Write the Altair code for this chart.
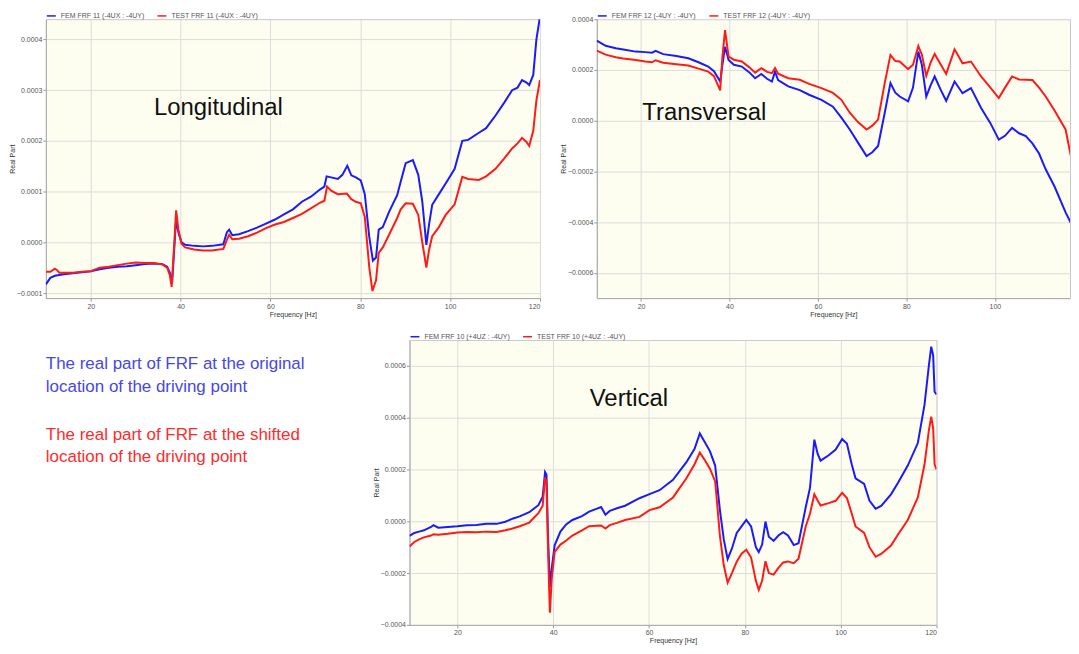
import altair as alt
import pandas as pd

# ---------------- data (real part values in units of 1e-4) ----------------
# Longitudinal
fL_fem = [10, 11, 12, 14, 16, 18, 20, 22, 24, 26, 28, 30, 32, 34, 36, 37, 37.6, 38.1, 38.6, 39.0,
          39.5, 40.2, 41, 43, 45, 47, 49.5, 50.3, 50.8, 51.5, 53, 55, 57, 59, 61, 63, 65, 67, 69, 71,
          72, 72.5, 73.5, 75, 76, 77.1, 78, 79, 80.1, 81, 82, 82.8, 83.5, 84.1, 85, 86.4, 88.2, 89, 90.1, 91.7,
          92.9, 93.8, 94.7, 95.3, 96, 97.5, 99, 101, 102.7, 104, 106.4, 108, 110.1, 112, 113.8, 115, 116, 117, 117.6, 118.5,
          119.2, 120]
vL_fem = [-0.83, -0.70, -0.66, -0.63, -0.61, -0.59, -0.57, -0.53, -0.50, -0.48, -0.47, -0.45, -0.43, -0.42, -0.43, -0.48, -0.6, -0.8, -0.1, 0.46,
          0.2, 0.0, -0.05, -0.07, -0.08, -0.07, -0.04, 0.2, 0.25, 0.14, 0.16, 0.22, 0.29, 0.37, 0.45, 0.55, 0.65, 0.8, 0.9, 1.04,
          1.1, 1.3, 1.28, 1.25, 1.33, 1.51, 1.32, 1.28, 1.22, 0.95, 0.1, -0.36, -0.3, 0.25, 0.3, 0.6, 0.93, 1.2, 1.56, 1.62,
          1.33, 0.8, -0.05, 0.35, 0.74, 0.95, 1.16, 1.45, 2.0, 2.02, 2.16, 2.25, 2.5, 2.75, 3.0, 3.05, 3.2, 3.15, 3.1, 3.3,
          4.0, 4.45]
fL_test = [10, 11, 12, 12.5, 13, 14, 16, 18, 20, 22, 24, 26, 28, 30, 32, 34, 36, 37, 37.6, 38.0,
           38.6, 39.0, 39.5, 40.2, 41, 43, 45, 47, 49.5, 50.3, 50.8, 51.5, 53, 55, 57, 59, 61, 63, 65, 67,
           69, 71, 72, 72.6, 73.5, 75, 77, 78, 79, 80.1, 81, 82, 82.7, 83.5, 84.1, 85, 86.4, 88.2, 89, 90.1,
           91.7, 92.9, 93.8, 94.7, 95.3, 96, 97.5, 99, 101, 102.7, 104, 106.4, 108, 110.1, 112, 113.8, 115, 116, 117, 117.6,
           118.5, 119.2, 120]
vL_test = [-0.58, -0.58, -0.52, -0.55, -0.6, -0.6, -0.6, -0.58, -0.57, -0.5, -0.48, -0.45, -0.42, -0.4, -0.41, -0.41, -0.44, -0.5, -0.65, -0.88,
           0.0, 0.63, 0.25, -0.03, -0.1, -0.14, -0.16, -0.16, -0.13, 0.05, 0.15, 0.06, 0.07, 0.12, 0.19, 0.28, 0.35, 0.4, 0.48, 0.56,
           0.67, 0.78, 0.82, 1.1, 1.02, 0.95, 0.96, 0.85, 0.8, 0.77, 0.5, -0.5, -0.96, -0.75, -0.21, -0.1, 0.15, 0.48, 0.65, 0.77,
           0.76, 0.54, 0.0, -0.5, -0.15, 0.12, 0.3, 0.54, 0.75, 1.29, 1.25, 1.23, 1.3, 1.45, 1.65, 1.85, 1.95, 2.06, 1.98, 1.9,
           2.2, 2.8, 3.2]

# Transversal
fT = [10, 12, 14.3, 16, 18.8, 21, 22.5, 23.3, 25, 28, 30.7, 33, 35.2, 36.5, 37.9, 38.4, 39.0, 39.8, 41, 42.8,
      44.5, 45.8, 47.2, 48.5, 49.6, 50.3, 51, 53.3, 55.9, 58, 60.8, 63.4, 65.3, 67.2, 69, 71.0, 72.3, 73.6, 75.1, 76.4,
      77.5, 78.5, 80.4, 81.5, 82.7, 83.5, 84.5, 85.5, 86.4, 87.8, 89.0, 90.9, 92.7, 94.6, 96.9, 99, 100.9, 102.3, 103.9, 105.5,
      107.0, 108.5, 110, 111.5, 113.5, 116.0, 117.5, 118.5]
vT_fem = [3.15, 2.95, 2.85, 2.8, 2.72, 2.7, 2.68, 2.75, 2.62, 2.55, 2.46, 2.3, 2.13, 1.95, 1.54, 2.2, 2.91, 2.39, 2.2, 2.13,
          1.9, 1.67, 1.84, 1.65, 1.54, 1.93, 1.6, 1.35, 1.2, 1.02, 0.82, 0.55, 0.12, -0.35, -0.85, -1.4, -1.25, -1.0, 0.3, 1.48,
          1.1, 0.95, 0.76, 1.3, 2.72, 2.2, 0.95, 1.4, 1.74, 1.2, 0.78, 1.54, 1.08, 1.28, 0.5, -0.1, -0.75, -0.6, -0.29, -0.5,
          -0.61, -0.9, -1.3, -1.92, -2.6, -3.62, -4.14, -5.5]
vT_test = [2.76, 2.6, 2.5, 2.45, 2.39, 2.33, 2.3, 2.38, 2.28, 2.22, 2.17, 2.05, 1.93, 1.75, 1.19, 2.5, 3.57, 2.52, 2.4, 2.33,
           2.1, 1.89, 2.07, 1.92, 1.87, 2.07, 1.85, 1.67, 1.61, 1.45, 1.28, 1.09, 0.82, 0.31, -0.05, -0.35, -0.2, 0.04, 1.48, 2.59,
           2.35, 2.33, 2.03, 2.2, 2.94, 2.6, 1.76, 2.3, 2.63, 2.2, 1.84, 2.81, 2.26, 2.33, 1.74, 1.3, 0.89, 1.3, 1.74, 1.62,
           1.61, 1.6, 1.3, 0.95, 0.4, -0.35, -1.66, -3.2]

# Vertical
fV = [10, 11, 12, 13, 14.5, 15, 16, 18, 20, 22, 24, 26, 28.2, 30, 31.5, 33, 35, 36.9, 37.8, 38.3,
      38.6, 38.9, 39.3, 39.7, 40.3, 41.5, 42.7, 44, 46, 47.5, 49, 50, 50.9, 51.8, 53.3, 55, 58, 60.1, 62.2, 65,
      67.8, 69.5, 70.6, 71.5, 72.7, 73.8, 74.8, 75.6, 76.4, 77.3, 78.3, 79.3, 80.3, 81.3, 82.3, 82.9, 83.6, 84.3, 85, 86.0,
      87, 88.0, 89, 90.2, 91.2, 92.7, 93.6, 94.5, 95.2, 95.8, 97.5, 98.95, 100.3, 101.3, 102.3, 103.1, 104.9, 106, 107.3, 108.5,
      110.5, 112, 114.0, 116.1, 117.5, 118.4, 118.9, 119.3, 119.6, 120]
vV_fem = [-0.56, -0.45, -0.4, -0.35, -0.22, -0.15, -0.25, -0.22, -0.19, -0.15, -0.14, -0.1, -0.1, -0.02, 0.1, 0.19, 0.35, 0.62, 0.95, 1.9,
          1.8, -0.5, -2.54, -1.8, -0.93, -0.4, -0.12, 0.05, 0.2, 0.37, 0.48, 0.55, 0.25, 0.4, 0.5, 0.6, 0.89, 1.05, 1.2, 1.6,
          2.28, 2.8, 3.39, 3.1, 2.71, 2.15, 0.42, -0.7, -1.46, -1.05, -0.45, -0.2, 0.05, -0.2, -1.0, -1.19, -0.9, -0.01, -0.6, -0.76,
          -0.55, -0.42, -0.55, -0.92, -0.85, 0.54, 1.3, 3.15, 2.6, 2.34, 2.55, 2.77, 3.17, 3.0, 2.2, 1.66, 1.44, 0.8, 0.48, 0.6,
          1.04, 1.5, 2.15, 3.02, 4.5, 6.0, 6.74, 6.4, 5.0, 4.9]
vV_test = [-0.97, -0.8, -0.7, -0.62, -0.55, -0.5, -0.52, -0.48, -0.43, -0.41, -0.42, -0.4, -0.41, -0.35, -0.28, -0.19, -0.05, 0.31, 0.6, 1.7,
           1.5, -1.0, -3.53, -2.2, -1.18, -0.9, -0.74, -0.55, -0.35, -0.19, -0.17, -0.16, -0.28, -0.15, -0.06, 0.05, 0.17, 0.43, 0.54, 0.92,
           1.66, 2.2, 2.65, 2.4, 2.03, 1.54, -0.57, -1.7, -2.37, -2.0, -1.56, -1.25, -1.1, -1.4, -2.3, -2.65, -2.3, -1.54, -2.0, -2.06,
           -1.8, -1.59, -1.55, -1.62, -1.45, -0.2, 0.3, 1.04, 0.8, 0.61, 0.7, 0.79, 1.1, 0.9, 0.3, -0.2, -0.45, -1.0, -1.37, -1.25,
           -0.94, -0.5, 0.05, 0.92, 2.2, 3.5, 4.04, 3.6, 2.2, 2.0]

names_L = ["FEM FRF 11 (-4UX : -4UY)", "TEST FRF 11 (-4UX : -4UY)"]
names_T = ["FEM FRF 12 (-4UY : -4UY)", "TEST FRF 12 (-4UY : -4UY)"]
names_V = ["FEM FRF 10 (+4UZ : -4UY)", "TEST FRF 10 (+4UZ : -4UY)"]

# panel headings (frequency, value in 1e-4)
head_text = ["Longitudinal", "Transversal", "Vertical"]
head_f = [48.4, 34.3, 55.8]
head_v = [2.65, 0.31, 4.71]

# y-axis ticks (values in 1e-4)
yticks_L = [-1, 0, 1, 2, 3, 4]
yticks_T = [-6, -4, -2, 0, 2, 4]
yticks_V = [-4, -2, 0, 2, 4, 6]
xticks = [20, 40, 60, 80, 100, 120]

side_text = ["The real part of FRF at the original", "location of the driving point",
             "The real part of FRF at the shifted", "location of the driving point"]
side_row = [0, 1, 3.1, 4.05]
side_color = ["#4747e6", "#4747e6", "#ff2b2b", "#ff2b2b"]

BLUE = "#1a1aff"
RED = "#ff1a1a"
E = 1e-4


def frame(f1, v1, f2, v2, names):
    a = pd.DataFrame({"f": f1, "v": [x * E for x in v1], "s": names[0]})
    b = pd.DataFrame({"f": f2, "v": [x * E for x in v2], "s": names[1]})
    return pd.concat([a, b], ignore_index=True)


def panel(df, names, xdom, ydom, yticks, idx, w, h):
    xenc = alt.X("f:Q", scale=alt.Scale(domain=xdom, nice=False, zero=False),
                 axis=alt.Axis(values=xticks, title="Frequency [Hz]", format="d"))
    yenc = alt.Y("v:Q", scale=alt.Scale(domain=[d * E for d in ydom], nice=False, zero=False),
                 axis=alt.Axis(values=[t * E for t in yticks], format=".4f", title="Real Part"))
    lines = alt.Chart(df).mark_line(strokeWidth=2, clip=True).encode(
        x=xenc, y=yenc,
        color=alt.Color("s:N", title=None,
                        scale=alt.Scale(domain=names, range=[BLUE, RED]),
                        legend=alt.Legend(orient="top", offset=0, symbolType="stroke",
                                          symbolSize=80, symbolStrokeWidth=1.5,
                                          labelFontSize=7, labelColor="#555",
                                          columnPadding=10, padding=0)),
        order=alt.Order("s:N"),
    )
    hd = pd.DataFrame({"f": [head_f[idx]], "v": [head_v[idx] * E], "t": [head_text[idx]]})
    head = alt.Chart(hd).mark_text(fontSize=24, font="Liberation Sans", color="#111").encode(
        x=xenc, y=yenc, text="t:N")
    return alt.layer(lines, head).properties(width=w, height=h)


pL = panel(frame(fL_fem, vL_fem, fL_test, vL_test, names_L), names_L, [10, 120], [-1.1, 4.4], yticks_L, 0, 496, 280)
pT = panel(frame(fT, vT_fem, fT, vT_test, names_T), names_T, [10, 117], [-7, 4], yticks_T, 1, 475, 280)
pV = panel(frame(fV, vV_fem, fV, vV_test, names_V), names_V, [10, 120], [-4, 7], yticks_V, 2, 529, 286)

side = pd.DataFrame({"t": side_text, "r": side_row, "c": side_color})
txt = alt.Chart(side, view=alt.ViewBackground(fill="white", stroke="transparent")).mark_text(
    align="left", baseline="middle", fontSize=17, font="Liberation Sans").encode(
    x=alt.value(0),
    y=alt.Y("r:Q", axis=None, scale=alt.Scale(domain=[-24 / 23, 262 / 23], reverse=True, nice=False, zero=False)),
    text="t:N",
    color=alt.Color("c:N", scale=None),
).properties(width=365, height=286)

row1 = alt.hconcat(pL, pT, spacing=57, bounds="flush").resolve_scale(
    color="independent", x="independent", y="independent").resolve_legend(color="independent")
row2 = alt.hconcat(txt, pV, spacing=0, bounds="flush").resolve_scale(
    color="independent", x="independent", y="independent").resolve_legend(color="independent")

chart = alt.vconcat(row1, row2, spacing=12).resolve_scale(
    color="independent", x="independent", y="independent").resolve_legend(color="independent").properties(
    padding=0, background="white").configure(font="Liberation Sans").configure_view(
    fill="#fefef0", stroke="#c8c8c8").configure_axis(
    labelFontSize=7, labelColor="#555", titleFontSize=7, titleFontWeight="normal", titleColor="#333",
    domainColor="#aaa", tickColor="#999", gridColor="#dcdcdc", tickSize=3, labelPadding=1, titlePadding=1)

chart.save("out.html", embed_options={"renderer": "svg", "actions": False})
